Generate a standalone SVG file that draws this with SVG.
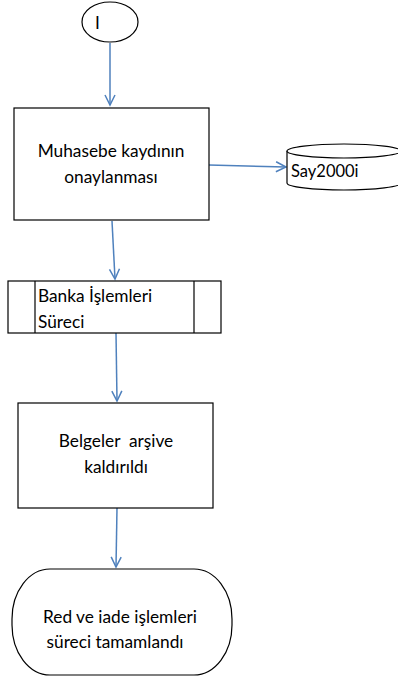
<svg xmlns="http://www.w3.org/2000/svg" width="398" height="690" viewBox="0 0 398 690">
<style>
.s{fill:#fff;stroke:#000;stroke-width:1.2}
.t{font-family:Lato,"Open Sans",sans-serif;font-size:17.3px;fill:#000}
.c{stroke:#4f81bd;stroke-width:1.5;fill:none}
</style>
<defs>
<marker id="a" markerWidth="14" markerHeight="14" refX="11" refY="6" orient="auto" markerUnits="userSpaceOnUse">
<path d="M1,1 L11,6 L1,11" fill="none" stroke="#4f81bd" stroke-width="1.5"/>
</marker>
</defs>
<g id="connectors">
<line class="c" x1="110" y1="43" x2="110" y2="105" marker-end="url(#a)"/>
<line class="c" x1="209" y1="165" x2="286" y2="167" marker-end="url(#a)"/>
<line class="c" x1="112" y1="221" x2="115" y2="279" marker-end="url(#a)"/>
<line class="c" x1="116" y1="333" x2="117" y2="401" marker-end="url(#a)"/>
<line class="c" x1="117" y1="508" x2="116" y2="567" marker-end="url(#a)"/>
</g>
<g id="start">
<ellipse class="s" cx="110" cy="22" rx="28" ry="20"/>
<text class="t" x="95" y="29">I</text>
</g>
<g id="muhasebe">
<rect class="s" x="14" y="108" width="195" height="112"/>
<text class="t" x="111" y="157" text-anchor="middle">Muhasebe kaydının</text>
<text class="t" x="111" y="183" text-anchor="middle">onaylanması</text>
</g>
<g id="say2000i">
<path class="s" d="M287,151 L287,183 A57,7 0 0 0 401,183 L401,151 A57,7 0 0 0 287,151 Z"/>
<path class="s" d="M287,151 A57,7 0 0 0 401,151" fill="none"/>
<text class="t" x="291" y="177" style="font-size:16.5px">Say2000i</text>
</g>
<g id="banka">
<rect class="s" x="8" y="281" width="213" height="52"/>
<line class="s" x1="35" y1="281" x2="35" y2="333"/>
<line class="s" x1="194" y1="281" x2="194" y2="333"/>
<text class="t" x="38" y="302">Banka İşlemleri</text>
<text class="t" x="38" y="328">Süreci</text>
</g>
<g id="belgeler">
<rect class="s" x="18" y="403" width="195" height="105"/>
<text class="t" x="116" y="447" text-anchor="middle" xml:space="preserve">Belgeler  arşive</text>
<text class="t" x="116" y="473" text-anchor="middle">kaldırıldı</text>
</g>
<g id="end">
<rect class="s" x="12" y="569" width="220" height="106" rx="38" ry="50"/>
<text class="t" x="120" y="623" text-anchor="middle">Red ve iade işlemleri</text>
<text class="t" x="115" y="648" text-anchor="middle">süreci tamamlandı</text>
</g>
</svg>
